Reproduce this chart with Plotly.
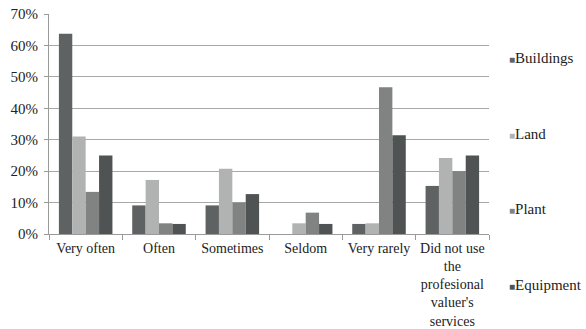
import plotly.graph_objects as go

categories = ["Very often", "Often", "Sometimes", "Seldom", "Very rarely",
              "Did not use<br>the<br>profesional<br>valuer's<br>services"]
buildings = [63.7, 9.1, 9.1, 0.0, 3.2, 15.3]
land = [31.0, 17.2, 20.8, 3.4, 3.4, 24.2]
plant = [13.4, 3.4, 10.0, 6.8, 46.7, 20.0]
equipment = [25.0, 3.2, 12.7, 3.2, 31.4, 25.0]

series = [
    ("Buildings", buildings, "#5f6262"),
    ("Land", land, "#b1b3b3"),
    ("Plant", plant, "#818383"),
    ("Equipment", equipment, "#4f5353"),
]

W, H = 586, 329
M = dict(l=49, r=97, t=14, b=95)
font = "'Liberation Serif', 'DejaVu Serif', serif"

fig = go.Figure()
for name, vals, color in series:
    fig.add_trace(go.Bar(x=categories, y=vals, name=name, marker_color=color,
                         marker_line_width=0, showlegend=False))

# Legend drawn as text entries spread down the right-hand side
plot_h = H - M["t"] - M["b"]
legend_top_px, legend_step_px = 58, 75.5
for i, (name, vals, color) in enumerate(series):
    py = legend_top_px + i * legend_step_px
    fig.add_annotation(
        xref="paper", yref="paper",
        x=1 + (507 - (W - M["r"])) / (W - M["l"] - M["r"]),
        y=(H - M["b"] - py) / plot_h,
        xanchor="left", yanchor="middle", showarrow=False,
        text=f"<span style='color:{color};font-size:10px'>■</span>{name}",
        font=dict(family=font, size=15, color="#222222"),
    )

fig.update_layout(
    width=W, height=H,
    margin=M,
    paper_bgcolor="white", plot_bgcolor="white",
    barmode="group", bargap=0.27, bargroupgap=0,
    font=dict(family=font, size=15, color="#222222"),
    showlegend=False,
)
fig.update_xaxes(showline=True, linecolor="#9a9a9a", linewidth=1,
                 ticks="outside", tickson="boundaries", ticklen=5,
                 tickcolor="#9a9a9a", showgrid=False, tickangle=0,
                 automargin=False, ticklabelstandoff=1,
                 tickfont=dict(family=font, size=14, color="#222222"))
fig.update_yaxes(range=[0, 70], dtick=10, ticksuffix="%",
                 showline=True, linecolor="#9a9a9a", linewidth=1,
                 ticks="outside", ticklen=4, tickcolor="#9a9a9a",
                 showgrid=True, gridcolor="#a8a8a8", gridwidth=1,
                 zeroline=False, automargin=False, ticklabelstandoff=3,
                 tickfont=dict(family=font, size=15, color="#222222"))

fig.write_html("out.html")
